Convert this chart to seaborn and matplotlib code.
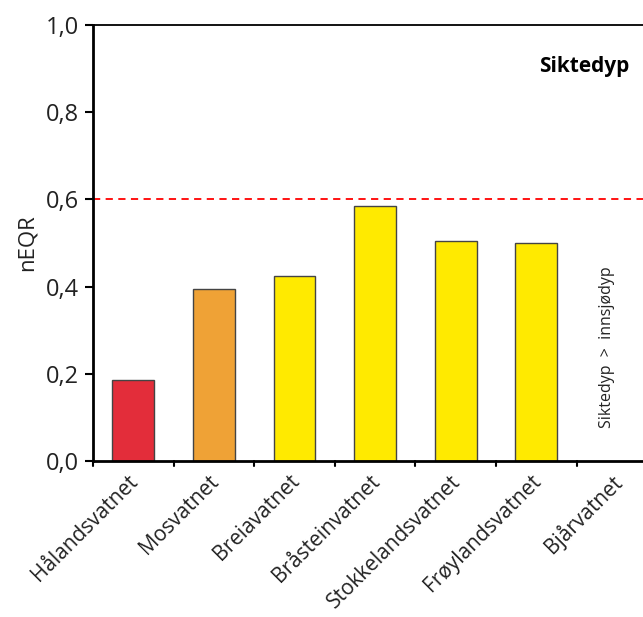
import numpy as np
import pandas as pd
import matplotlib
matplotlib.use('Agg')
import matplotlib.pyplot as plt
import matplotlib.transforms as mtransforms
import seaborn as sns

sns.set_theme(style='white')
plt.rcParams['font.family'] = ['Open Sans', 'DejaVu Sans']

lakes = ['Hålandsvatnet', 'Mosvatnet', 'Breiavatnet', 'Bråsteinvatnet',
         'Stokkelandsvatnet', 'Frøylandsvatnet', 'Bjårvatnet']
neqr = [0.185, 0.395, 0.425, 0.585, 0.505, 0.50, np.nan]
colors = ['#E32D3A', '#EFA236', '#FFEA00', '#FFEA00', '#FFEA00', '#FFEA00', '#FFEA00']
yticks = [0.0, 0.2, 0.4, 0.6, 0.8, 1.0]
ytick_labels = ['0,0', '0,2', '0,4', '0,6', '0,8', '1,0']
limit = 0.6

df = pd.DataFrame({'lake': lakes, 'neqr': neqr})

fig = plt.figure(figsize=(6.43, 6.17), dpi=100)
ax = fig.add_axes([0.1446, 0.2528, 0.862, 0.7067])

sns.barplot(data=df, x='lake', y='neqr', hue='lake', palette=colors,
            saturation=1, legend=False, width=0.52, edgecolor='#444444',
            linewidth=1, ax=ax)

ax.axhline(limit, color='#FF0000', linestyle=(0, (4, 3)), linewidth=1.3, zorder=0)

ax.set_xlim(-0.5, 6.375)
ax.set_ylim(0, 1.0)
ax.set_yticks(yticks)
ax.set_yticklabels(ytick_labels, fontsize=17, color='#222222')
ax.set_xticks(np.arange(len(lakes)))
ax.set_xticklabels(lakes, rotation=45, ha='right', rotation_mode='anchor',
                   fontsize=15, color='#222222')
ax.tick_params(axis='x', length=0, pad=7)
ax.tick_params(axis='y', left=True, length=6, width=1.5, color='black', pad=4)

shift = mtransforms.ScaledTranslation(-6 / 100, 0, fig.dpi_scale_trans)
for lab in ax.get_xticklabels():
    lab.set_transform(lab.get_transform() + shift)

# tick marks between categories
for b in np.arange(-0.5, len(lakes), 1.0):
    ax.plot([b, b], [0, -0.012], color='black', lw=1.5, clip_on=False)

ax.set_xlabel('')
ax.set_ylabel('nEQR', fontsize=16, color='#222222', labelpad=6)

for side in ['left', 'bottom', 'top']:
    ax.spines[side].set_color('black')
ax.spines['left'].set_linewidth(2)
ax.spines['bottom'].set_linewidth(2)
ax.spines['top'].set_linewidth(1.3)
ax.spines['right'].set_visible(False)

ax.text(0.967, 0.905, 'Siktedyp', transform=ax.transAxes, ha='right', va='center',
        fontsize=15, fontweight='bold', color='black')
ax.text(5.88, 0.075, 'Siktedyp  >  innsjødyp', rotation=90, ha='center', va='bottom',
        fontsize=11.5, color='#222222')

fig.savefig('out.png', dpi=100)
